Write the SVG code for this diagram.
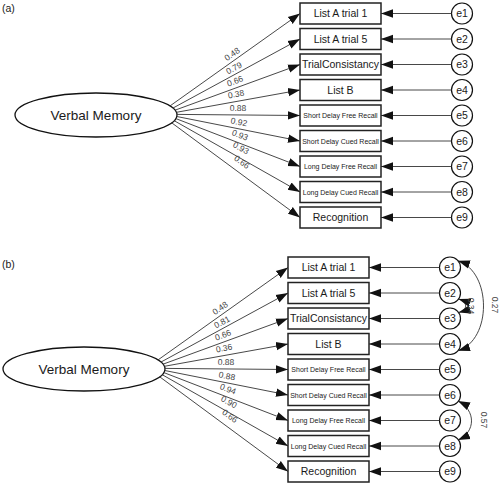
<svg xmlns="http://www.w3.org/2000/svg" width="500" height="485" viewBox="0 0 500 485">
<defs>
<marker id="ah" markerUnits="userSpaceOnUse" markerWidth="12" markerHeight="10" refX="10" refY="3.5" orient="auto-start-reverse" viewBox="0 0 10 7">
<path d="M0,0 L10,3.5 L0,7 Z" fill="#111"/>
</marker>
</defs>
<style>
text{font-family:"Liberation Sans",Arial,sans-serif;fill:#1a1a1a}
.lat{fill:#fff;stroke:#111;stroke-width:1.3}
.box{fill:#fff;stroke:#222;stroke-width:1.5}
.err{fill:#fff;stroke:#111;stroke-width:1.2}
.ln{stroke:#333;stroke-width:0.9;fill:none;marker-end:url(#ah)}
.cov{stroke:#333;stroke-width:0.9;fill:none;marker-start:url(#ah);marker-end:url(#ah)}
.t13{font-size:13.5px;text-anchor:middle}
.t10{font-size:10.5px;text-anchor:middle}
.t7{font-size:7px;text-anchor:middle}
.ld{font-size:8.5px;text-anchor:middle;fill:#444}
.pl{font-size:10.5px}
</style>

<text class="pl" x="2" y="12">(a)</text>
<g id="panelA">
<g id="a-verbal"><ellipse class="lat" cx="96" cy="115" rx="81" ry="22"/><text class="t13" x="96" y="120">Verbal Memory</text></g>
<g id="a-v1"><rect class="box" x="300" y="3" width="81" height="21"/><text class="t10" x="340.5" y="17.2">List A trial 1</text></g>
<g id="a-v2"><rect class="box" x="300" y="28.5" width="81" height="21"/><text class="t10" x="340.5" y="42.7">List A trial 5</text></g>
<g id="a-v3"><rect class="box" x="300" y="54" width="81" height="21"/><text class="t10" x="340.5" y="68.2">TrialConsistancy</text></g>
<g id="a-v4"><rect class="box" x="300" y="79.5" width="81" height="21"/><text class="t10" x="340.5" y="93.7">List B</text></g>
<g id="a-v5"><rect class="box" x="300" y="105" width="81" height="21"/><text class="t7" x="340.5" y="118">Short Delay Free Recall</text></g>
<g id="a-v6"><rect class="box" x="300" y="130.5" width="81" height="21"/><text class="t7" x="340.5" y="143.5">Short Delay Cued Recall</text></g>
<g id="a-v7"><rect class="box" x="300" y="156" width="81" height="21"/><text class="t7" x="340.5" y="169">Long Delay Free Recall</text></g>
<g id="a-v8"><rect class="box" x="300" y="181.5" width="81" height="21"/><text class="t7" x="340.5" y="194.5">Long Delay Cued Recall</text></g>
<g id="a-v9"><rect class="box" x="300" y="207" width="81" height="21"/><text class="t10" x="340.5" y="221.2">Recognition</text></g>
<g id="a-e1"><circle class="err" cx="462" cy="13.5" r="10.5"/><text class="t10" x="462" y="17.2">e1</text></g>
<g id="a-e2"><circle class="err" cx="462" cy="39" r="10.5"/><text class="t10" x="462" y="42.7">e2</text></g>
<g id="a-e3"><circle class="err" cx="462" cy="64.5" r="10.5"/><text class="t10" x="462" y="68.2">e3</text></g>
<g id="a-e4"><circle class="err" cx="462" cy="90" r="10.5"/><text class="t10" x="462" y="93.7">e4</text></g>
<g id="a-e5"><circle class="err" cx="462" cy="115.5" r="10.5"/><text class="t10" x="462" y="119.2">e5</text></g>
<g id="a-e6"><circle class="err" cx="462" cy="141" r="10.5"/><text class="t10" x="462" y="144.7">e6</text></g>
<g id="a-e7"><circle class="err" cx="462" cy="166.5" r="10.5"/><text class="t10" x="462" y="170.2">e7</text></g>
<g id="a-e8"><circle class="err" cx="462" cy="192" r="10.5"/><text class="t10" x="462" y="195.7">e8</text></g>
<g id="a-e9"><circle class="err" cx="462" cy="217.5" r="10.5"/><text class="t10" x="462" y="221.2">e9</text></g>
<g id="a-connectors">
<line class="ln" x1="169.9" y1="106" x2="300" y2="13.5"/>
<line class="ln" x1="172.9" y1="108.1" x2="300" y2="39"/>
<line class="ln" x1="175" y1="110.2" x2="300" y2="64.5"/>
<line class="ln" x1="176.4" y1="112.3" x2="300" y2="90"/>
<line class="ln" x1="177" y1="114.4" x2="300" y2="115.5"/>
<line class="ln" x1="176.8" y1="116.5" x2="300" y2="141"/>
<line class="ln" x1="175.9" y1="118.6" x2="300" y2="166.5"/>
<line class="ln" x1="174.2" y1="120.7" x2="300" y2="192"/>
<line class="ln" x1="171.7" y1="122.8" x2="300" y2="217.5"/>
<line class="ln" x1="451.5" y1="13.5" x2="381" y2="13.5"/>
<line class="ln" x1="451.5" y1="39" x2="381" y2="39"/>
<line class="ln" x1="451.5" y1="64.5" x2="381" y2="64.5"/>
<line class="ln" x1="451.5" y1="90" x2="381" y2="90"/>
<line class="ln" x1="451.5" y1="115.5" x2="381" y2="115.5"/>
<line class="ln" x1="451.5" y1="141" x2="381" y2="141"/>
<line class="ln" x1="451.5" y1="166.5" x2="381" y2="166.5"/>
<line class="ln" x1="451.5" y1="192" x2="381" y2="192"/>
<line class="ln" x1="451.5" y1="217.5" x2="381" y2="217.5"/>
<text class="ld" transform="translate(232,54) rotate(-35)" y="3">0.48</text>
<text class="ld" transform="translate(234,68) rotate(-28)" y="3">0.79</text>
<text class="ld" transform="translate(235,81) rotate(-20)" y="3">0.66</text>
<text class="ld" transform="translate(236,94) rotate(-10)" y="3">0.38</text>
<text class="ld" transform="translate(238,108) rotate(0.5)" y="3">0.88</text>
<text class="ld" transform="translate(239,122) rotate(11)" y="3">0.92</text>
<text class="ld" transform="translate(240,135) rotate(21)" y="3">0.93</text>
<text class="ld" transform="translate(241,148) rotate(29)" y="3">0.93</text>
<text class="ld" transform="translate(242,162) rotate(36)" y="3">0.66</text>
</g>
</g>

<text class="pl" x="2" y="268">(b)</text>
<g id="panelB" transform="translate(-12,254)">
<g id="b-verbal"><ellipse class="lat" cx="96" cy="115" rx="81" ry="22"/><text class="t13" x="96" y="120">Verbal Memory</text></g>
<g id="b-v1"><rect class="box" x="300" y="3" width="81" height="21"/><text class="t10" x="340.5" y="17.2">List A trial 1</text></g>
<g id="b-v2"><rect class="box" x="300" y="28.5" width="81" height="21"/><text class="t10" x="340.5" y="42.7">List A trial 5</text></g>
<g id="b-v3"><rect class="box" x="300" y="54" width="81" height="21"/><text class="t10" x="340.5" y="68.2">TrialConsistancy</text></g>
<g id="b-v4"><rect class="box" x="300" y="79.5" width="81" height="21"/><text class="t10" x="340.5" y="93.7">List B</text></g>
<g id="b-v5"><rect class="box" x="300" y="105" width="81" height="21"/><text class="t7" x="340.5" y="118">Short Delay Free Recall</text></g>
<g id="b-v6"><rect class="box" x="300" y="130.5" width="81" height="21"/><text class="t7" x="340.5" y="143.5">Short Delay Cued Recall</text></g>
<g id="b-v7"><rect class="box" x="300" y="156" width="81" height="21"/><text class="t7" x="340.5" y="169">Long Delay Free Recall</text></g>
<g id="b-v8"><rect class="box" x="300" y="181.5" width="81" height="21"/><text class="t7" x="340.5" y="194.5">Long Delay Cued Recall</text></g>
<g id="b-v9"><rect class="box" x="300" y="207" width="81" height="21"/><text class="t10" x="340.5" y="221.2">Recognition</text></g>
<g id="b-e1"><circle class="err" cx="462" cy="13.5" r="10.5"/><text class="t10" x="462" y="17.2">e1</text></g>
<g id="b-e2"><circle class="err" cx="462" cy="39" r="10.5"/><text class="t10" x="462" y="42.7">e2</text></g>
<g id="b-e3"><circle class="err" cx="462" cy="64.5" r="10.5"/><text class="t10" x="462" y="68.2">e3</text></g>
<g id="b-e4"><circle class="err" cx="462" cy="90" r="10.5"/><text class="t10" x="462" y="93.7">e4</text></g>
<g id="b-e5"><circle class="err" cx="462" cy="115.5" r="10.5"/><text class="t10" x="462" y="119.2">e5</text></g>
<g id="b-e6"><circle class="err" cx="462" cy="141" r="10.5"/><text class="t10" x="462" y="144.7">e6</text></g>
<g id="b-e7"><circle class="err" cx="462" cy="166.5" r="10.5"/><text class="t10" x="462" y="170.2">e7</text></g>
<g id="b-e8"><circle class="err" cx="462" cy="192" r="10.5"/><text class="t10" x="462" y="195.7">e8</text></g>
<g id="b-e9"><circle class="err" cx="462" cy="217.5" r="10.5"/><text class="t10" x="462" y="221.2">e9</text></g>
<g id="b-connectors">
<line class="ln" x1="169.9" y1="106" x2="300" y2="13.5"/>
<line class="ln" x1="172.9" y1="108.1" x2="300" y2="39"/>
<line class="ln" x1="175" y1="110.2" x2="300" y2="64.5"/>
<line class="ln" x1="176.4" y1="112.3" x2="300" y2="90"/>
<line class="ln" x1="177" y1="114.4" x2="300" y2="115.5"/>
<line class="ln" x1="176.8" y1="116.5" x2="300" y2="141"/>
<line class="ln" x1="175.9" y1="118.6" x2="300" y2="166.5"/>
<line class="ln" x1="174.2" y1="120.7" x2="300" y2="192"/>
<line class="ln" x1="171.7" y1="122.8" x2="300" y2="217.5"/>
<line class="ln" x1="451.5" y1="13.5" x2="381" y2="13.5"/>
<line class="ln" x1="451.5" y1="39" x2="381" y2="39"/>
<line class="ln" x1="451.5" y1="64.5" x2="381" y2="64.5"/>
<line class="ln" x1="451.5" y1="90" x2="381" y2="90"/>
<line class="ln" x1="451.5" y1="115.5" x2="381" y2="115.5"/>
<line class="ln" x1="451.5" y1="141" x2="381" y2="141"/>
<line class="ln" x1="451.5" y1="166.5" x2="381" y2="166.5"/>
<line class="ln" x1="451.5" y1="192" x2="381" y2="192"/>
<line class="ln" x1="451.5" y1="217.5" x2="381" y2="217.5"/>
<path class="cov" d="M470,6.8 C504,18 504,86 470,96.7"/>
<path class="cov" d="M470.6,45 C480,48 480,56 470.6,58.5"/>
<path class="cov" d="M470,147 C488,156 488,178 470,186"/>
<text class="ld" transform="translate(232,54) rotate(-35)" y="3">0.48</text>
<text class="ld" transform="translate(234,68) rotate(-28)" y="3">0.81</text>
<text class="ld" transform="translate(235,81) rotate(-20)" y="3">0.66</text>
<text class="ld" transform="translate(236,94) rotate(-10)" y="3">0.36</text>
<text class="ld" transform="translate(238,108) rotate(0.5)" y="3">0.88</text>
<text class="ld" transform="translate(239,122) rotate(11)" y="3">0.88</text>
<text class="ld" transform="translate(240,135) rotate(21)" y="3">0.94</text>
<text class="ld" transform="translate(241,148) rotate(29)" y="3">0.90</text>
<text class="ld" transform="translate(242,162) rotate(36)" y="3">0.66</text>
<text class="ld" transform="translate(507,51) rotate(90)" y="3">0.27</text>
<text class="ld" transform="translate(483,52) rotate(90)" y="3">0.34</text>
<text class="ld" transform="translate(496,166) rotate(90)" y="3">0.57</text>
</g>
</g>
</svg>
